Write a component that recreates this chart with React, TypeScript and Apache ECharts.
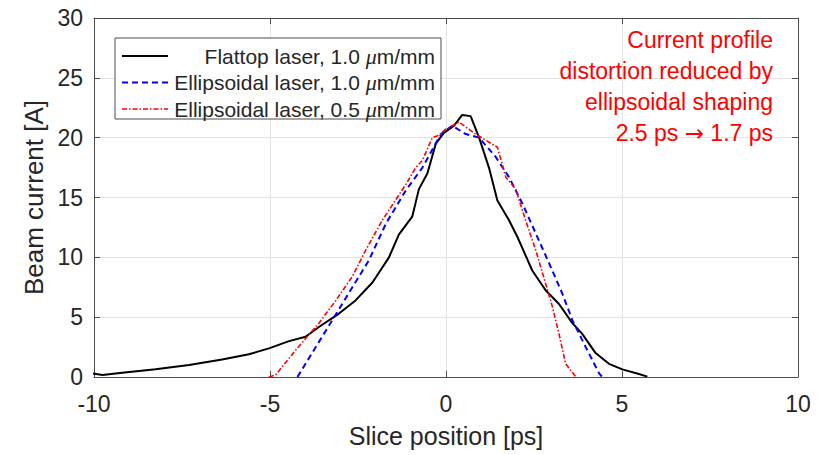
import React, { useEffect, useRef } from "react";
import * as echarts from "echarts";

const flattopX = [-10.05, -9.76, -9.2, -8.25, -7.3, -6.36, -5.6, -5.03, -4.46, -3.99, -3.6, -3.04, -2.57, -2.09, -1.62, -1.34, -0.96, -0.77, -0.53, -0.29, -0.06, 0.23, 0.46, 0.7, 0.94, 1.22, 1.46, 1.79, 2.03, 2.45, 2.83, 3.21, 3.59, 3.87, 4.25, 4.63, 5.01, 5.48, 5.72];
const flattopY = [0.3, 0.17, 0.36, 0.64, 1.0, 1.47, 1.9, 2.39, 3.0, 3.36, 4.2, 5.3, 6.4, 7.9, 10.0, 11.9, 13.4, 15.7, 17.0, 19.5, 20.4, 21.0, 21.9, 21.8, 20.0, 17.5, 14.75, 13.1, 11.7, 8.9, 7.25, 6.1, 4.5, 3.6, 2.0, 1.1, 0.64, 0.25, 0.03];

const ellip10X = [-4.22, -3.7, -3.23, -2.66, -2.19, -1.71, -1.14, -0.67, -0.2, -0.1, 0.18, 0.56, 0.94, 1.41, 1.79, 2.17, 2.55, 2.93, 3.3, 3.59, 3.97, 4.35, 4.44];
const ellip10Y = [0, 2.5, 4.75, 7.5, 9.75, 12.8, 15.6, 17.5, 20.0, 20.4, 21.0, 20.3, 20.0, 18.4, 16.7, 14.5, 12.0, 9.5, 7.0, 4.75, 2.5, 0.3, 0];

const ellip05X = [-5.03, -4.84, -4.27, -3.61, -3.13, -2.66, -2.28, -1.81, -1.34, -1.14, -0.86, -0.67, -0.39, -0.2, -0.01, 0.37, 0.84, 1.46, 1.7, 1.98, 2.26, 2.55, 2.83, 3.02, 3.21, 3.4, 3.69];
const ellip05Y = [0, 0.17, 2.25, 4.5, 6.4, 8.4, 10.6, 13.1, 15.2, 16.1, 17.5, 18.1, 20.0, 20.2, 20.7, 21.3, 20.3, 19.2, 16.7, 15.7, 13.1, 10.6, 7.8, 5.9, 3.6, 1.1, 0];

const seriesNames = [
  "Flattop laser, 1.0 μm/mm",
  "Ellipsoidal laser, 1.0 μm/mm",
  "Ellipsoidal laser, 0.5 μm/mm",
];
const annotationLines = [
  "Current profile",
  "distortion reduced by",
  "ellipsoidal shaping",
  "2.5 ps → 1.7 ps",
];
const xTitle = "Slice position [ps]";
const yTitle = "Beam current [A]";

const zip = (xs: number[], ys: number[]) => xs.map((x, i) => [x, ys[i]]);

const FONT = "'Liberation Sans', Arial, sans-serif";
const AXIS_COLOR = "#262626";
const LINE_COLOR = "#4d4d4d";

function legendText(name: string) {
  const parts = name.split("μ");
  return `{a|${parts[0]}}{mu|μ}{a|${parts[1]}}`;
}

function annText(line: string) {
  if (line.indexOf("→") < 0) return `{a|${line}}`;
  const parts = line.split("→");
  return `{a|${parts[0]}}{ar|→}{a|${parts[1]}}`;
}

export default function App() {
  const ref = useRef<HTMLDivElement>(null);
  useEffect(() => {
    if (!ref.current) return;
    const chart = echarts.init(ref.current, null, { renderer: "svg" });
    const axisCommon = {
      type: "value" as const,
      axisLine: { show: true, onZero: false, lineStyle: { color: LINE_COLOR, width: 1 } },
      axisTick: { show: true, inside: true, length: 6, lineStyle: { color: LINE_COLOR } },
    };
    const legendRows = [
      { color: "#000000", dash: null as any, width: 2 },
      { color: "#0000ff", dash: [6, 4], width: 2 },
      { color: "#ff0000", dash: [5, 2, 1.5, 2], width: 1.5 },
    ];
    const legendGraphics: any[] = [
      {
        type: "rect",
        shape: { x: 115, y: 38, width: 326, height: 81 },
        style: { fill: "#ffffff", stroke: LINE_COLOR, lineWidth: 1 },
        z: 100,
      },
    ];
    legendRows.forEach((r, i) => {
      const y = 56 + i * 26.5;
      legendGraphics.push({
        type: "line",
        shape: { x1: 122, y1: y, x2: 168, y2: y },
        style: { stroke: r.color, lineWidth: r.width, lineDash: r.dash },
        z: 101,
      });
      legendGraphics.push({
        type: "text",
        x: 435,
        y: y,
        style: {
          text: legendText(seriesNames[i]),
          align: "right",
          verticalAlign: "middle",
          fontFamily: FONT,
          fontSize: 21,
          fill: AXIS_COLOR,
          rich: {
            a: { fontFamily: FONT, fontSize: 21, fill: AXIS_COLOR },
            mu: { fontFamily: "'Liberation Serif', serif", fontStyle: "italic", fontSize: 22, fill: AXIS_COLOR },
          },
        },
        z: 101,
      });
    });
    const annGraphics: any[] = annotationLines.map((line, i) => ({
      type: "text",
      x: 773,
      y: 40 + i * 31,
      style: {
        text: annText(line),
        align: "right",
        verticalAlign: "middle",
        fontFamily: FONT,
        fontSize: 23,
        fill: "#ff0000",
        rich: {
          a: { fontFamily: FONT, fontSize: 23, fill: "#ff0000" },
          ar: { fontFamily: "'DejaVu Sans', sans-serif", fontSize: 23, fill: "#ff0000" },
        },
      },
      z: 101,
    }));
    const option: any = {
      animation: false,
      backgroundColor: "#ffffff",
      grid: { left: 94, right: 27, top: 18, bottom: 78, containLabel: false },
      xAxis: [
        {
          ...axisCommon,
          min: -10,
          max: 10,
          interval: 5,
          name: xTitle,
          nameLocation: "middle",
          nameGap: 46,
          nameTextStyle: { fontFamily: FONT, fontSize: 25, color: AXIS_COLOR },
          axisLabel: { fontFamily: FONT, fontSize: 23, color: AXIS_COLOR, margin: 15 },
          splitLine: { show: true, lineStyle: { color: "#e3e3e3", width: 1 } },
        },
        {
          ...axisCommon,
          position: "top",
          min: -10,
          max: 10,
          interval: 5,
          axisLabel: { show: false },
          splitLine: { show: false },
        },
      ],
      yAxis: [
        {
          ...axisCommon,
          min: 0,
          max: 30,
          interval: 5,
          name: yTitle,
          nameLocation: "middle",
          nameGap: 45,
          nameTextStyle: { fontFamily: FONT, fontSize: 26, color: AXIS_COLOR },
          axisLabel: { fontFamily: FONT, fontSize: 23, color: AXIS_COLOR, margin: 11 },
          splitLine: { show: true, lineStyle: { color: "#e3e3e3", width: 1 } },
        },
        {
          ...axisCommon,
          position: "right",
          min: 0,
          max: 30,
          interval: 5,
          axisLabel: { show: false },
          splitLine: { show: false },
        },
      ],
      series: [
        {
          name: seriesNames[0],
          type: "line",
          data: zip(flattopX, flattopY),
          showSymbol: false,
          lineStyle: { color: "#000000", width: 2 },
          z: 3,
        },
        {
          name: seriesNames[1],
          type: "line",
          data: zip(ellip10X, ellip10Y),
          showSymbol: false,
          lineStyle: { color: "#0000ff", width: 2, type: [6, 4] },
          z: 4,
        },
        {
          name: seriesNames[2],
          type: "line",
          data: zip(ellip05X, ellip05Y),
          showSymbol: false,
          lineStyle: { color: "#ff0000", width: 1.6, type: [5, 2, 1.5, 2] },
          z: 5,
        },
      ],
      graphic: [...legendGraphics, ...annGraphics],
    };
    chart.setOption(option);
    return () => chart.dispose();
  }, []);
  return <div ref={ref} style={{ width: 825, height: 455, position: "absolute", left: 0, top: 0 }} />;
}
